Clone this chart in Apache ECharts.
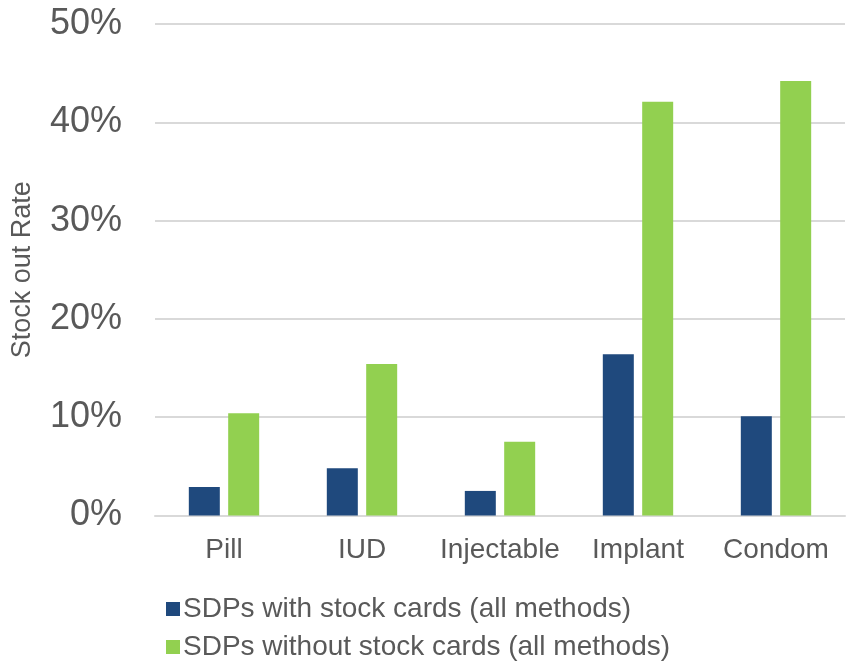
<!DOCTYPE html>
<html>
<head>
<meta charset="utf-8">
<script src="https://cdn.jsdelivr.net/npm/echarts@6/dist/echarts.min.js"></script>
<style>
  html, body { margin: 0; padding: 0; background: #ffffff; }
  #chart { width: 846px; height: 671px; }
</style>
</head>
<body>
<div id="chart"></div>
<script>
// Contraceptive methods on the category axis
const methods = ['Pill', 'IUD', 'Injectable', 'Implant', 'Condom'];

// Stock-out rates (%) by facility type
const withCards = [2.9, 4.8, 2.5, 16.4, 10.1];
const withoutCards = [10.4, 15.4, 7.5, 42.1, 44.2];

const seriesNames = [
  'SDPs with stock cards (all methods)',
  'SDPs without stock cards (all methods)'
];

const textColor = '#595959';
const fontFamily = '"Liberation Sans", Arial, sans-serif';

const chart = echarts.init(document.getElementById('chart'), null, { renderer: 'canvas' });

chart.setOption({
  animation: false,
  textStyle: { fontFamily: fontFamily },
  grid: { left: 155, right: 1, top: 24, bottom: 155.5, containLabel: false, outerBoundsMode: 'none' },
  legend: {
    orient: 'vertical',
    left: 161,
    top: 590,
    itemWidth: 14,
    itemHeight: 14,
    itemGap: 10,
    icon: 'rect',
    textStyle: { color: textColor, fontSize: 28, fontFamily: fontFamily, padding: [0, 0, 0, -2] },
    data: seriesNames
  },
  xAxis: {
    type: 'category',
    data: methods,
    axisLine: { show: true, lineStyle: { color: '#d9d9d9', width: 2 } },
    axisTick: { show: false },
    axisLabel: { color: textColor, fontSize: 28, margin: 21, interval: 0, hideOverlap: false, fontFamily: fontFamily }
  },
  yAxis: {
    type: 'value',
    min: 0,
    max: 50,
    interval: 10,
    name: 'Stock out Rate',
    nameLocation: 'middle',
    nameGap: 119,
    nameTextStyle: { color: textColor, fontSize: 27, fontFamily: fontFamily },
    axisLine: { show: false },
    axisTick: { show: false },
    axisLabel: { color: textColor, fontSize: 36, margin: 33, formatter: '{value}%', fontFamily: fontFamily },
    splitLine: { lineStyle: { color: '#d9d9d9', width: 2 } }
  },
  series: [
    {
      name: seriesNames[0],
      type: 'bar',
      data: withCards,
      barWidth: 31,
      barGap: '27%',
      itemStyle: { color: '#1f497d' }
    },
    {
      name: seriesNames[1],
      type: 'bar',
      data: withoutCards,
      barWidth: 31,
      itemStyle: { color: '#92d050' }
    }
  ]
});
</script>
</body>
</html>
